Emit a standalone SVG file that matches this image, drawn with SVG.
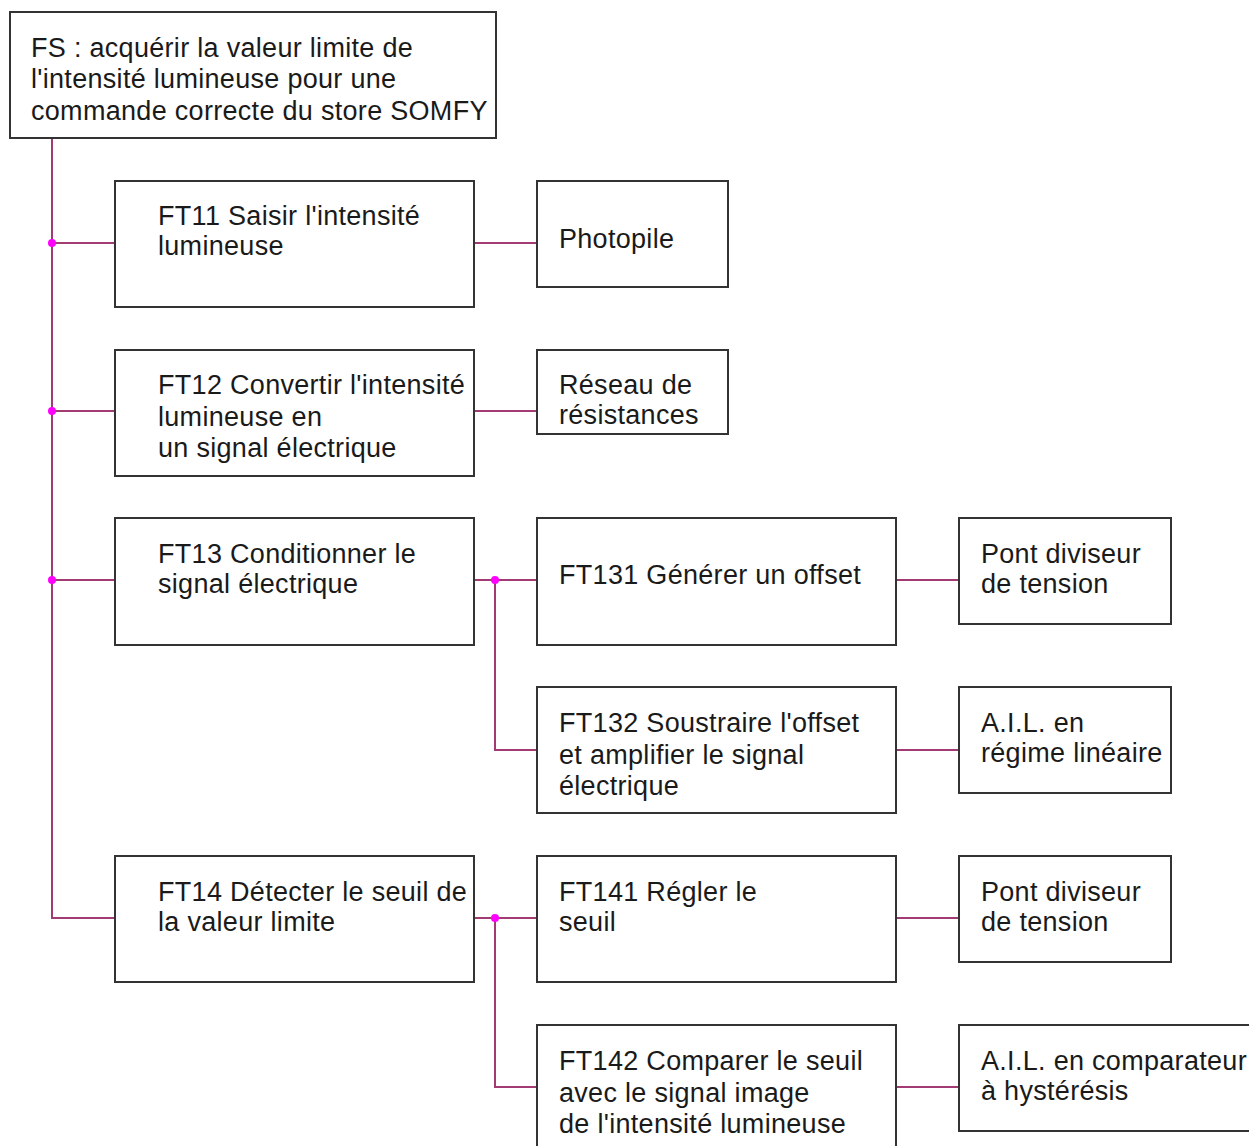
<svg xmlns="http://www.w3.org/2000/svg" width="1249" height="1146" viewBox="0 0 1249 1146">
<style>
.box{fill:#fff;stroke:#333;stroke-width:2}
.t{font-family:"Liberation Sans",Arial,sans-serif;font-size:27px;letter-spacing:0.3px;fill:#1a1a1a}
.c{fill:none;stroke:#a23a74;stroke-width:2}
.d{fill:#ff00ff}
</style>
<rect width="1249" height="1146" fill="#fff"/>
<g id="connectors">
<path class="c" d="M52 138V918H115"/>
<path class="c" d="M52 243H115M474 243H537"/>
<path class="c" d="M52 411H115M474 411H537"/>
<path class="c" d="M52 580H115M474 580H537M495 580V750H537M896 580H959M896 750H959"/>
<path class="c" d="M474 918H537M495 918V1087H537M896 918H959M896 1087H959"/>
<circle class="d" cx="52" cy="243" r="4"/>
<circle class="d" cx="52" cy="411" r="4"/>
<circle class="d" cx="52" cy="580" r="4"/>
<circle class="d" cx="495" cy="580" r="4"/>
<circle class="d" cx="495" cy="918" r="4"/>
</g>
<g id="fs"><rect class="box" x="10" y="12" width="486" height="126"/>
<text class="t" x="31" y="57">FS : acquérir la valeur limite de</text>
<text class="t" x="31" y="88">l'intensité lumineuse pour une</text>
<text class="t" x="31" y="120">commande correcte du store SOMFY</text></g>
<g id="ft11"><rect class="box" x="115" y="181" width="359" height="126"/>
<text class="t" x="158" y="225">FT11 Saisir l'intensité</text>
<text class="t" x="158" y="255">lumineuse</text></g>
<g id="photopile"><rect class="box" x="537" y="181" width="191" height="106"/>
<text class="t" x="559" y="248">Photopile</text></g>
<g id="ft12"><rect class="box" x="115" y="350" width="359" height="126"/>
<text class="t" x="158" y="394">FT12 Convertir l'intensité</text>
<text class="t" x="158" y="426">lumineuse en</text>
<text class="t" x="158" y="457">un signal électrique</text></g>
<g id="reseau"><rect class="box" x="537" y="350" width="191" height="84"/>
<text class="t" x="559" y="394">Réseau de</text>
<text class="t" x="559" y="424">résistances</text></g>
<g id="ft13"><rect class="box" x="115" y="518" width="359" height="127"/>
<text class="t" x="158" y="563">FT13 Conditionner le</text>
<text class="t" x="158" y="593">signal électrique</text></g>
<g id="ft131"><rect class="box" x="537" y="518" width="359" height="127"/>
<text class="t" x="559" y="584">FT131 Générer un offset</text></g>
<g id="pont1"><rect class="box" x="959" y="518" width="212" height="106"/>
<text class="t" x="981" y="563">Pont diviseur</text>
<text class="t" x="981" y="593">de tension</text></g>
<g id="ft132"><rect class="box" x="537" y="687" width="359" height="126"/>
<text class="t" x="559" y="732">FT132 Soustraire l'offset</text>
<text class="t" x="559" y="764">et amplifier le signal</text>
<text class="t" x="559" y="795">électrique</text></g>
<g id="ail1"><rect class="box" x="959" y="687" width="212" height="106"/>
<text class="t" x="981" y="732">A.I.L. en</text>
<text class="t" x="981" y="762">régime linéaire</text></g>
<g id="ft14"><rect class="box" x="115" y="856" width="359" height="126"/>
<text class="t" x="158" y="901">FT14 Détecter le seuil de</text>
<text class="t" x="158" y="931">la valeur limite</text></g>
<g id="ft141"><rect class="box" x="537" y="856" width="359" height="126"/>
<text class="t" x="559" y="901">FT141 Régler le</text>
<text class="t" x="559" y="931">seuil</text></g>
<g id="pont2"><rect class="box" x="959" y="856" width="212" height="106"/>
<text class="t" x="981" y="901">Pont diviseur</text>
<text class="t" x="981" y="931">de tension</text></g>
<g id="ft142"><rect class="box" x="537" y="1025" width="359" height="130"/>
<text class="t" x="559" y="1070">FT142 Comparer le seuil</text>
<text class="t" x="559" y="1102">avec le signal image</text>
<text class="t" x="559" y="1133">de l'intensité lumineuse</text></g>
<g id="ail2"><rect class="box" x="959" y="1025" width="300" height="106"/>
<text class="t" x="981" y="1070">A.I.L. en comparateur</text>
<text class="t" x="981" y="1100">à hystérésis</text></g>
</svg>
